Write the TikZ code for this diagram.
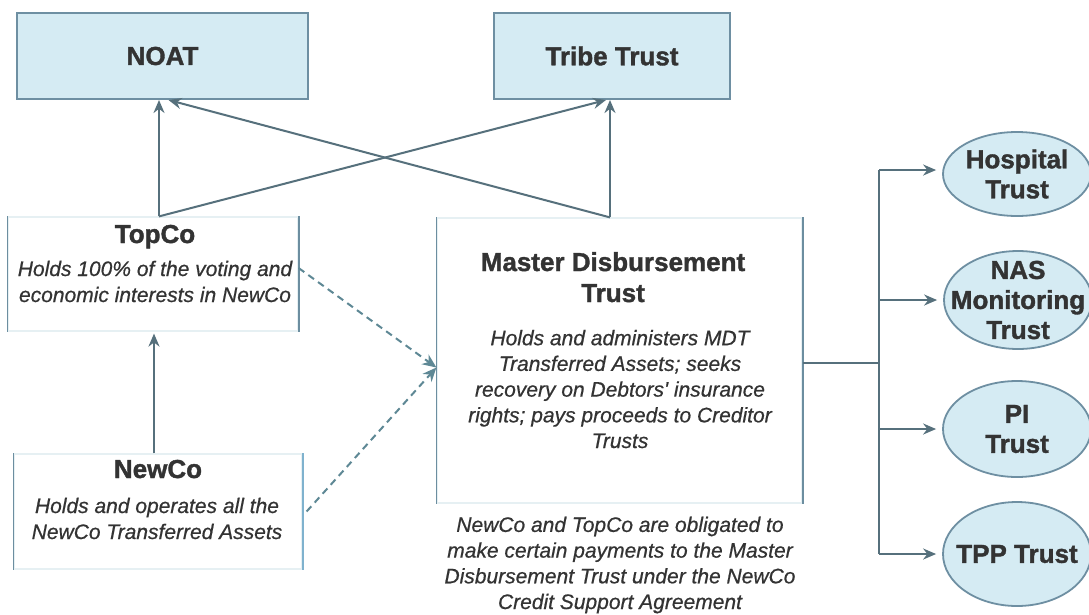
\documentclass[tikz,border=0pt]{standalone}
\usepackage{fontspec}
\setmainfont{Liberation Sans}
\newfontfamily\heavyfam[FakeBold=1.4]{Liberation Sans Bold}
\newfontfamily\descfam[FakeBold=0.6]{Liberation Sans Italic}
\usetikzlibrary{arrows.meta,shapes.geometric}
\definecolor{boxfill}{HTML}{D5EBF3}
\definecolor{boxedge}{HTML}{6E8FA2}
\definecolor{conncol}{HTML}{56707C}
\definecolor{dashcol}{HTML}{5E8895}
\definecolor{txt}{HTML}{333333}
\definecolor{faint}{HTML}{E6F0F3}
\definecolor{sideedge}{HTML}{6C8EA0}
\definecolor{sidelight}{HTML}{7FB2CE}
\tikzset{
  titlefont/.style={font=\fontsize{26}{30}\selectfont\heavyfam,text=txt},
  descfont/.style={font=\fontsize{21}{26}\selectfont\descfam,text=txt},
  topbox/.style={draw=boxedge,line width=2pt,fill=boxfill,titlefont,inner sep=0pt},
  openbox/.style={draw=faint,line width=1.2pt,inner sep=0pt},
  trustell/.style={ellipse,draw=boxedge,line width=1.8pt,fill=boxfill,inner sep=0pt},
  conn/.style={draw=conncol,line width=2pt,-{Stealth[length=13pt,width=11pt]}},
  dconn/.style={draw=dashcol,line width=2pt,dash pattern=on 7pt off 5pt,-{Stealth[length=14pt,width=12pt]}},
  busline/.style={draw=conncol,line width=1.8pt},
  sideline/.style={draw=sideedge,line width=1.8pt},
}
\begin{document}
\begin{tikzpicture}[x=1pt,y=-1pt]
\useasboundingbox[fill=white] (0,0) rectangle (1089,614);
% top boxes
\node[topbox,minimum width=291pt,minimum height=86pt] (noat) at (162.5,56) {NOAT};
\node[topbox,minimum width=236pt,minimum height=86pt] (tribe) at (612,56) {Tribe Trust};
% TopCo
\node[openbox,minimum width=290pt,minimum height=114pt] (topco) at (153,274) {};
\draw[sideline] (topco.north west) -- (topco.south west) (topco.north east) -- (topco.south east);
\node[titlefont,anchor=base,inner sep=0pt] (topcoT) at (155,243) {TopCo};
\node[descfont,anchor=base,align=center,inner sep=0pt] (topcoD) at (155,302) {Holds 100\% of the voting and\\economic interests in NewCo};
% NewCo
\node[openbox,minimum width=288pt,minimum height=115pt] (newco) at (158,511.5) {};
\draw[sideline] (newco.north west) -- (newco.south west);
\draw[sideline,draw=sidelight] (newco.north east) -- (newco.south east);
\node[titlefont,anchor=base,inner sep=0pt] (newcoT) at (158,478) {NewCo};
\node[descfont,anchor=base,align=center,inner sep=0pt] (newcoD) at (157,539) {Holds and operates all the\\NewCo Transferred Assets};
% MDT
\node[openbox,minimum width=365pt,minimum height=285pt] (mdt) at (619.5,360.5) {};
\draw[sideline] (mdt.north west) -- (mdt.south west) (mdt.north east) -- (mdt.south east);
\node[titlefont,font=\fontsize{26}{31}\selectfont\heavyfam,anchor=base,align=center,inner sep=0pt] (mdtT) at (613,302) {Master Disbursement\\Trust};
\node[descfont,font=\fontsize{21}{25.7}\selectfont\descfam,anchor=base,align=center,inner sep=0pt] (mdtD) at (620,448) {Holds and administers MDT\\Transferred Assets; seeks\\recovery on Debtors' insurance\\rights; pays proceeds to Creditor\\Trusts};
\node[descfont,font=\fontsize{21}{25.7}\selectfont\descfam,anchor=base,align=center,inner sep=0pt] (note) at (620,609) {NewCo and TopCo are obligated to\\make certain payments to the Master\\Disbursement Trust under the NewCo\\Credit Support Agreement};
% creditor trusts
\node[trustell,minimum width=148pt,minimum height=84pt] (hosp) at (1017,174) {};
\node[trustell,minimum width=148pt,minimum height=98pt] (nas) at (1018,300) {};
\node[trustell,minimum width=148pt,minimum height=96pt] (pi) at (1017,429) {};
\node[trustell,minimum width=148pt,minimum height=104pt] (tpp) at (1017,554) {};
\node[titlefont,align=center,inner sep=0pt] (hospT) at (hosp) {Hospital\\Trust};
\node[titlefont,align=center,inner sep=0pt] (nasT) at (nas) {NAS\\Monitoring\\Trust};
\node[titlefont,align=center,inner sep=0pt] (piT) at (pi) {PI\\Trust};
\node[titlefont,align=center,inner sep=0pt] (tppT) at (tpp) {TPP Trust};
% top connectors
\coordinate (tA) at ([xshift=6pt]topco.north);
\coordinate (mA) at ([xshift=-9.5pt]mdt.north);
\draw[conn] (tA) -- (tA |- noat.south);
\draw[conn] (tA) -- ([xshift=-6pt]tribe.south);
\draw[conn] (mA) -- (mA |- tribe.south);
\draw[conn] (mA) -- ([xshift=6pt]noat.south);
% NewCo -> TopCo
\coordinate (nA) at ([xshift=-4pt]newco.north);
\draw[conn] (nA) -- ([yshift=-2pt]nA |- topco.south);
% dashed to MDT
\draw[dconn] ([yshift=6pt]topco.east) -- ([yshift=-7pt]mdt.west);
\draw[dconn] ([xshift=4pt]newco.east) -- ([yshift=-7pt]mdt.west);
% bus to creditor trusts
\coordinate (busx) at (879,0);
\coordinate (mdtout) at ([yshift=-2.5pt]mdt.east);
\draw[busline] (mdtout) -- (busx |- mdtout);
\draw[busline] ([yshift=4pt]busx |- hosp.west) -- (busx |- tpp.west);
\draw[conn] ([yshift=4pt]busx |- hosp.west) -- ([xshift=-6pt,yshift=4pt]hosp.west);
\foreach \t in {nas,pi,tpp}{
  \draw[conn] (busx |- \t.west) -- ([xshift=-6pt]\t.west);
}
\end{tikzpicture}
\end{document}
